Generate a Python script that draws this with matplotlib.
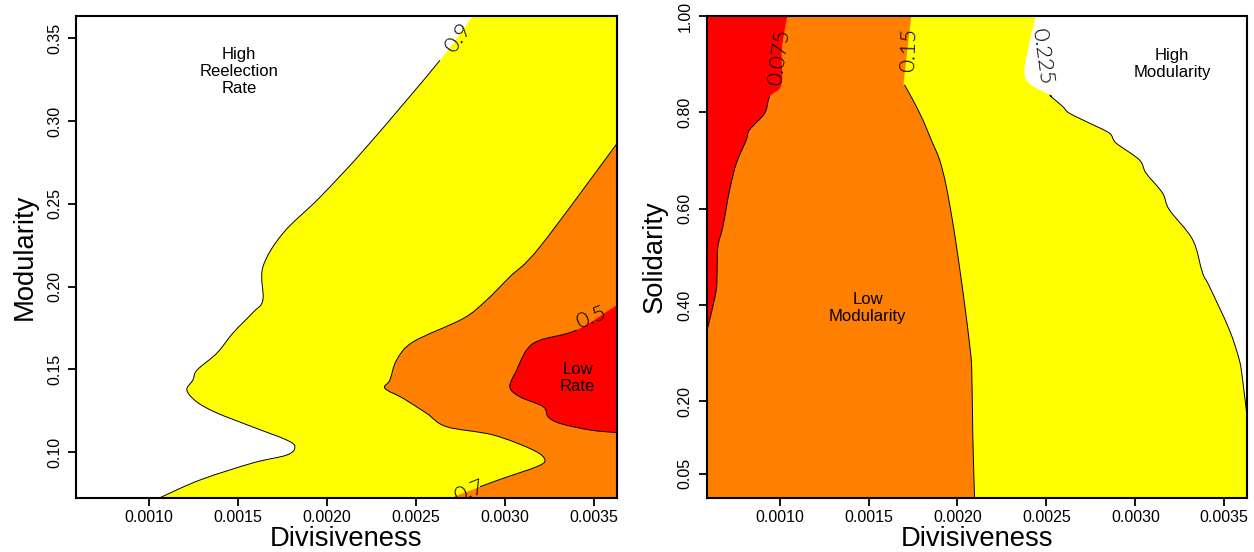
import matplotlib
matplotlib.use("Agg")
import matplotlib.pyplot as plt
from matplotlib.path import Path
from matplotlib.patches import PathPatch
import numpy as np

plt.rcParams['font.family'] = ['Liberation Sans', 'DejaVu Sans']

# ---------------- data: axes ----------------
x_limits = (0.00059, 0.00363)
left_y_limits = (0.0724, 0.3635)
right_y_limits = (0.0, 1.0)

x_ticks = [0.0010, 0.0015, 0.0020, 0.0025, 0.0030, 0.0035]
x_ticklabels = ["0.0010", "0.0015", "0.0020", "0.0025", "0.0030", "0.0035"]
left_y_ticks = [0.10, 0.15, 0.20, 0.25, 0.30, 0.35]
left_y_ticklabels = ["0.10", "0.15", "0.20", "0.25", "0.30", "0.35"]
right_y_ticks = [0.05, 0.20, 0.40, 0.60, 0.80, 1.00]
right_y_ticklabels = ["0.05", "0.20", "0.40", "0.60", "0.80", "1.00"]

# ---------------- data: left panel (Modularity vs Divisiveness) ----------------
# contour level 0.9 (white / yellow boundary), top to bottom
c09_x = [0.002819, 0.002635, 0.002223, 0.001961, 0.001753, 0.001640, 0.001640,
         0.001584, 0.001472, 0.001382, 0.001270, 0.001247, 0.001213, 0.001270,
         0.001382, 0.001584, 0.001775, 0.001820, 0.001775, 0.001584, 0.001287,
         0.001062]
c09_y = [0.3635, 0.3367, 0.2844, 0.2540, 0.2322, 0.2117, 0.1918,
         0.1843, 0.1719, 0.1598, 0.1495, 0.1435, 0.1374, 0.1302,
         0.1236, 0.1151, 0.1072, 0.1030, 0.0982, 0.0934, 0.0831,
         0.0724]

# contour level 0.7 (yellow / orange boundary), right edge to bottom
c07_x = [0.00363, 0.003197, 0.003028, 0.002897, 0.002766, 0.002485, 0.002392,
         0.002354, 0.002326, 0.002429, 0.002560, 0.002672, 0.002934, 0.003159,
         0.003225, 0.003178, 0.002990, 0.002860, 0.002701]
c07_y = [0.2864, 0.2240, 0.2059, 0.1918, 0.1807, 0.1666, 0.1556,
         0.1435, 0.1385, 0.1324, 0.1234, 0.1153, 0.1103, 0.1012,
         0.0952, 0.0911, 0.0841, 0.0790, 0.0724]

# contour level 0.5 (orange / red boundary), right edge to right edge
c05_x = [0.00363, 0.003403, 0.003197, 0.003122, 0.003066, 0.003028, 0.003084,
         0.003215, 0.003243, 0.003309, 0.003478, 0.00363]
c05_y = [0.1888, 0.1737, 0.1676, 0.1616, 0.1495, 0.1394, 0.1334,
         0.1274, 0.1213, 0.1173, 0.1133, 0.1117]

# ---------------- data: right panel (Solidarity vs Divisiveness) ----------------
# contour level 0.075 (red / orange boundary), top to left edge
c075_x = [0.001043, 0.001012, 0.0010096, 0.000944, 0.000916, 0.000831, 0.000813,
          0.000757, 0.000719, 0.000681, 0.000653, 0.000648, 0.000644, 0.000616,
          0.00059]
c075_y = [1.0, 0.93, 0.857, 0.8327, 0.7983, 0.7637, 0.7430,
          0.6947, 0.6394, 0.5633, 0.5219, 0.4667, 0.4321, 0.3838,
          0.3457]

# contour level 0.15 (orange / yellow boundary), top to bottom
c15_x = [0.00174, 0.001697, 0.001702, 0.001749, 0.001805, 0.001852, 0.001899,
         0.001937, 0.001983, 0.002021, 0.002039, 0.002067, 0.002080, 0.002086,
         0.002096]
c15_y = [1.0, 0.8605, 0.857, 0.8259, 0.7845, 0.7430, 0.7016,
         0.6462, 0.5496, 0.4529, 0.4046, 0.3217, 0.2663, 0.1281,
         0.0]

# contour level 0.225 (yellow / white boundary), top to right edge
c225_x = [0.002442, 0.002404, 0.002382, 0.002517, 0.002526, 0.002592, 0.002629,
          0.002742, 0.002854, 0.002892, 0.003022, 0.003060, 0.003153, 0.003191,
          0.003322, 0.003378, 0.003416, 0.003528, 0.003584, 0.003603, 0.00363]
c225_y = [1.0, 0.9434, 0.8709, 0.8363, 0.8328, 0.8120, 0.7983,
          0.7776, 0.7569, 0.7362, 0.7016, 0.6740, 0.6325, 0.5979,
          0.5358, 0.4667, 0.4390, 0.3492, 0.2870, 0.2456, 0.1627]

# ---------------- styling ----------------
YELLOW = "#FFFF00"
ORANGE = "#FF8000"
RED = "#FF0000"
LINE_KW = dict(edgecolor="black", lw=0.7, facecolor="none", zorder=3)
LABEL_KW = dict(ha="center", va="center", fontsize=16, color="black",
                family=["Lato", "DejaVu Sans"], fontweight=300, zorder=4)
NOTE_KW = dict(ha="center", va="center", fontsize=12, linespacing=1.15, zorder=4)


def smooth_segments(xs, ys):
    """Catmull-Rom curve through the given points as cubic Bezier segments."""
    p = np.column_stack([xs, ys]).astype(float)
    n = len(p)
    segs = []
    for i in range(n - 1):
        p0 = p[i - 1] if i > 0 else p[i]
        p1, p2 = p[i], p[i + 1]
        p3 = p[i + 2] if i + 2 < n else p[i + 1]
        c1 = p1 + (p2 - p0) / 6.0
        c2 = p2 - (p3 - p1) / 6.0
        segs.append((p1, c1, c2, p2))
    return segs


def curve_path(segs, extra=None, close=False):
    verts = [segs[0][0]]
    codes = [Path.MOVETO]
    for (_, c1, c2, p2) in segs:
        verts += [c1, c2, p2]
        codes += [Path.CURVE4] * 3
    if extra:
        for pt in extra:
            verts.append(pt)
            codes.append(Path.LINETO)
    if close:
        verts.append(verts[0])
        codes.append(Path.CLOSEPOLY)
    return Path(np.array(verts), codes)


def fill_region(ax, xs, ys, extra, color):
    segs = smooth_segments(xs, ys)
    ax.add_patch(PathPatch(curve_path(segs, extra, close=True),
                           facecolor=color, edgecolor="none", lw=0, zorder=1))
    return segs


def draw_line(ax, segs, start, stop=None):
    sub = segs[start:stop]
    ax.add_patch(PathPatch(curve_path(sub), **LINE_KW))


fig = plt.figure(figsize=(12.54, 5.52), dpi=100)
axL = fig.add_axes([0.0606, 0.0984, 0.4314, 0.8726])
axR = fig.add_axes([0.5636, 0.0984, 0.4311, 0.8726])

x0, x1 = x_limits

# ---- left panel ----
yl0, yl1 = left_y_limits
s09 = fill_region(axL, c09_x, c09_y, [(x1, yl0), (x1, yl1)], YELLOW)
s07 = fill_region(axL, c07_x, c07_y, [(x1, yl0)], ORANGE)
s05 = fill_region(axL, c05_x, c05_y, [], RED)
draw_line(axL, s09, 1)
draw_line(axL, s07, 0, -1)
draw_line(axL, s05, 1)

axL.text(0.002740, 0.3500, "0.9", rotation=55, **LABEL_KW)
axL.text(0.002800, 0.0758, "0.7", rotation=22, clip_on=True, **LABEL_KW)
axL.text(0.003487, 0.1809, "0.5", rotation=22, **LABEL_KW)

axL.text(0.001506, 0.3300, "High\nReelection\nRate", **NOTE_KW)
axL.text(0.003409, 0.1447, "Low\nRate", **NOTE_KW)

axL.set_xlim(x_limits)
axL.set_ylim(left_y_limits)
axL.set_yticks(left_y_ticks)
axL.set_yticklabels(left_y_ticklabels)
axL.set_ylabel("Modularity", fontsize=19.7, va="center")
axL.yaxis.set_label_coords(-0.095, 0.5)

# ---- right panel ----
yr0, yr1 = right_y_limits
axR.add_patch(plt.Rectangle((x0, yr0), x1 - x0, yr1 - yr0, facecolor=YELLOW,
                            edgecolor="none", zorder=0.5))
s225 = fill_region(axR, c225_x, c225_y, [(x1, yr1)], "white")
s15 = fill_region(axR, c15_x, c15_y, [(x0, yr0), (x0, yr1)], ORANGE)
s075 = fill_region(axR, c075_x, c075_y, [(x0, yr1)], RED)
draw_line(axR, s225, 3)
draw_line(axR, s15, 2)
draw_line(axR, s075, 3)

axR.text(0.001000, 0.915, "0.075", rotation=82, **LABEL_KW)
axR.text(0.001728, 0.929, "0.15", rotation=88, **LABEL_KW)
axR.text(0.002478, 0.916, "0.225", rotation=-82, **LABEL_KW)

axR.text(0.001496, 0.393, "Low\nModularity", **NOTE_KW)
axR.text(0.003208, 0.900, "High\nModularity", **NOTE_KW)

axR.set_xlim(x_limits)
axR.set_ylim(right_y_limits)
axR.set_yticks(right_y_ticks)
axR.set_yticklabels(right_y_ticklabels)
axR.set_ylabel("Solidarity", fontsize=19.7, va="center")
axR.yaxis.set_label_coords(-0.0956, 0.5)

for ax in (axL, axR):
    ax.set_xticks(x_ticks)
    ax.set_xticklabels(x_ticklabels)
    ax.set_xlabel("Divisiveness", fontsize=19.7)
    ax.xaxis.set_label_coords(0.5, -0.058)
    ax.tick_params(axis="both", direction="out", length=6, width=1.3,
                   labelsize=11.5, colors="black")
    ax.tick_params(axis="x", pad=3)
    ax.tick_params(axis="y", pad=4)
    for lab in ax.get_yticklabels():
        lab.set_rotation(90)
        lab.set_va("center")
    for sp in ax.spines.values():
        sp.set_linewidth(1.5)
        sp.set_zorder(5)

fig.savefig("out.png", dpi=100)
